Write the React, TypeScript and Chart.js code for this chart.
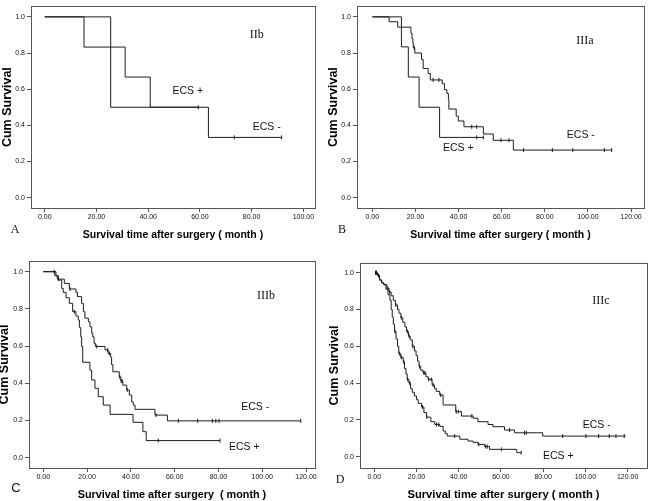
import React, { useEffect, useRef } from "react";
import { Chart, registerables } from "chart.js";

Chart.register(...registerables);

const SANS = '"Liberation Sans", Arial, sans-serif';
const SERIF = '"Liberation Serif", "Times New Roman", serif';
const CURVE = "#1e1e1e";
const FRAME = "#555555";

// ---------- shared ticks ----------
const yTicks = [0, 0.2, 0.4, 0.6, 0.8, 1.0];
const aXTicks = [0, 20, 40, 60, 80, 100];
const bXTicks = [0, 20, 40, 60, 80, 100, 120];
const cXTicks = [0, 20, 40, 60, 80, 100, 120];
const dXTicks = [0, 20, 40, 60, 80, 100, 120];

// ---------- Panel A (IIb) ----------
const aNegT = [0, 15.2, 31.1, 40.8, 63.3, 91.6];
const aNegS = [1, 0.833, 0.667, 0.5, 0.333, 0.333];
const aNegCens = [73.3, 91.6];
const aPosT = [0, 25.5, 59.4];
const aPosS = [1, 0.5, 0.5];
const aPosCens = [59.4];

// ---------- Panel B (IIIa) ----------
const bNegT = [0, 7.8, 11.8, 17.9, 18.4, 18.8, 19.0, 19.7, 22.8, 23.6, 25.9, 26.9, 32.4, 33.5, 34.6, 35.3, 35.5, 38.9, 39.9, 42.5, 51.5, 56.1, 65.4, 111.0];
const bNegS = [1, 0.973, 0.943, 0.91, 0.88, 0.855, 0.83, 0.8, 0.764, 0.714, 0.687, 0.651, 0.63, 0.597, 0.576, 0.545, 0.49, 0.451, 0.424, 0.392, 0.352, 0.317, 0.263, 0.263];
const bNegCens = [19.4, 28.2, 30.9, 46.1, 48.4, 59.7, 63.4, 70.1, 83.5, 93.0, 107.6, 111.0];
const bPosT = [0, 13.5, 16.7, 21.7, 31.2, 51.5];
const bPosS = [1, 0.834, 0.667, 0.5, 0.333, 0.333];
const bPosCens = [48.4, 51.5];

// ---------- Panel C (IIIb) ----------
const cNegT = [0, 5.3, 6.4, 9.6, 11.9, 14.9, 15.6, 17.5, 18.3, 19.0, 20.6, 21.3, 22.1, 22.6, 23.2, 23.8, 28.2, 29.6, 30.8, 31.2, 31.8, 34.7, 35.4, 36.3, 38.1, 39.3, 40.4, 41.1, 41.9, 51.0, 56.7, 117.6];
const cNegS = [1, 0.978, 0.96, 0.937, 0.907, 0.889, 0.866, 0.83, 0.785, 0.75, 0.731, 0.704, 0.67, 0.65, 0.615, 0.598, 0.579, 0.56, 0.54, 0.5, 0.462, 0.435, 0.412, 0.39, 0.364, 0.337, 0.3, 0.283, 0.26, 0.229, 0.198, 0.198];
const cNegCens = [5.0, 6.8, 12.2, 24.4, 29.4, 30.2, 34.9, 35.6, 36.0, 38.3, 51.5, 61.7, 70.5, 77.2, 78.8, 80.3, 117.6];
const cPosT = [0, 5.8, 6.9, 8.4, 9.1, 10.4, 11.9, 13.4, 14.9, 16.0, 16.5, 17.1, 17.5, 18.0, 21.3, 22.1, 23.6, 25.1, 27.4, 30.5, 41.0, 45.5, 47.0, 80.7];
const cPosS = [1, 0.978, 0.955, 0.91, 0.889, 0.86, 0.83, 0.785, 0.762, 0.74, 0.699, 0.65, 0.597, 0.513, 0.47, 0.418, 0.373, 0.328, 0.283, 0.233, 0.19, 0.14, 0.092, 0.092];
const cPosCens = [14.2, 52.5, 80.7];

// ---------- Panel D (IIIc) ----------
const dNegT = [0.3, 1.5, 2.5, 3.5, 4.5, 6.0, 7.0, 8.0, 9.0, 10.0, 11.0, 11.7, 12.6, 13.5, 14.5, 15.3, 16.2, 17.0, 18.0, 19.0, 19.8, 20.5, 21.2, 22.0, 23.1, 24.5, 25.5, 27.4, 28.5, 29.4, 31.0, 32.6, 38.6, 41.3, 46.8, 49.1, 53.9, 56.2, 61.7, 66.5, 79.8, 119.0];
const dNegS = [1.0, 0.985, 0.96, 0.945, 0.935, 0.915, 0.895, 0.875, 0.85, 0.825, 0.8, 0.78, 0.755, 0.73, 0.705, 0.68, 0.655, 0.635, 0.6, 0.575, 0.55, 0.52, 0.49, 0.47, 0.455, 0.435, 0.42, 0.39, 0.37, 0.355, 0.335, 0.281, 0.245, 0.221, 0.209, 0.19, 0.175, 0.163, 0.145, 0.13, 0.112, 0.112];
const dNegCens = [0.6, 1.0, 2.0, 6.5, 7.3, 10.2, 12.8, 15.8, 16.5, 18.3, 21.5, 23.5, 24.0, 25.8, 27.0, 27.9, 31.5, 38.8, 39.8, 46.2, 64.1, 71.2, 72.0, 89.3, 100.3, 106.3, 111.3, 114.5, 118.4];
const dPosT = [0.3, 1.5, 2.5, 3.5, 4.5, 5.5, 6.5, 7.4, 8.0, 8.5, 9.0, 9.6, 10.3, 11.0, 11.6, 12.5, 13.7, 14.3, 15.0, 15.6, 16.4, 17.2, 18.0, 19.0, 20.0, 20.8, 22.4, 23.5, 24.7, 26.8, 28.7, 31.0, 32.6, 33.6, 34.6, 40.5, 44.4, 46.8, 49.1, 52.3, 54.6, 67.5, 69.6];
const dPosS = [1.0, 0.985, 0.96, 0.945, 0.935, 0.91, 0.88, 0.85, 0.8, 0.76, 0.72, 0.68, 0.64, 0.6, 0.56, 0.54, 0.515, 0.48, 0.45, 0.42, 0.4, 0.37, 0.35, 0.33, 0.31, 0.29, 0.27, 0.24, 0.215, 0.19, 0.175, 0.165, 0.14, 0.125, 0.112, 0.095, 0.085, 0.078, 0.067, 0.055, 0.04, 0.022, 0.022];
const dPosCens = [0.6, 1.0, 9.8, 12.0, 12.8, 14.0, 15.8, 16.8, 22.8, 24.9, 29.5, 30.5, 38.1, 49.5, 52.8, 53.5, 60.2, 69.6];

// ---------- helpers ----------
function survAt(T: number[], S: number[], t: number): number {
  let v = S[0];
  for (let i = 0; i < T.length; i++) {
    if (T[i] <= t) v = S[i];
    else break;
  }
  return v;
}

type Series = { T: number[]; S: number[]; C: number[] };
type Label = { text: string; x: number; y: number; font: string };
type Spec = {
  left: number; top: number; width: number; height: number;
  padTop: number; padRight: number; yWidth: number; xHeight: number;
  xMin: number; xMax: number; yMin: number; yMax: number;
  xTicks: number[];
  xTitle: string; xTitleSize: number; xTitlePad: number;
  yTitleSize: number; yTitlePad: number;
  series: Series[];
  labels: Label[];
  letter: Label;
};

const LBL = `10.5px ${SANS}`;
const ROM = `12px ${SERIF}`;

const specs: Spec[] = [
  {
    left: 0, top: 0, width: 325, height: 250,
    padTop: 0, padRight: 10, yWidth: 31, xHeight: 42,
    xMin: -5.3, xMax: 104.5, yMin: -0.0575, yMax: 1.059,
    xTicks: aXTicks,
    xTitle: "Survival time after surgery ( month )", xTitleSize: 10.5, xTitlePad: 9.75,
    yTitleSize: 12.5, yTitlePad: 1.75,
    series: [
      { T: aNegT, S: aNegS, C: aNegCens },
      { T: aPosT, S: aPosS, C: aPosCens },
    ],
    labels: [
      { text: "IIb", x: 82, y: 0.898, font: ROM },
      { text: "ECS +", x: 55.3, y: 0.59, font: LBL },
      { text: "ECS -", x: 85.8, y: 0.388, font: LBL },
    ],
    letter: { text: "A", x: 15, y: 230, font: `12px ${SERIF}` },
  },
  {
    left: 325, top: 0, width: 325, height: 250,
    padTop: 0, padRight: 6, yWidth: 32, xHeight: 42,
    xMin: -7.1, xMax: 126.0, yMin: -0.0575, yMax: 1.059,
    xTicks: bXTicks,
    xTitle: "Survival time after surgery ( month )", xTitleSize: 10.5, xTitlePad: 9.75,
    yTitleSize: 12.5, yTitlePad: 2.05,
    series: [
      { T: bNegT, S: bNegS, C: bNegCens },
      { T: bPosT, S: bPosS, C: bPosCens },
    ],
    labels: [
      { text: "IIIa", x: 98.6, y: 0.866, font: ROM },
      { text: "ECS -", x: 96.7, y: 0.347, font: LBL },
      { text: "ECS +", x: 39.9, y: 0.272, font: LBL },
    ],
    letter: { text: "B", x: 17, y: 230, font: `12px ${SERIF}` },
  },
  {
    left: 0, top: 250, width: 325, height: 251,
    padTop: 11, padRight: 10, yWidth: 29, xHeight: 33,
    xMin: -6.53, xMax: 124.1, yMin: -0.0554, yMax: 1.0575,
    xTicks: cXTicks,
    xTitle: "Survival time after surgery  ( month )", xTitleSize: 10.8, xTitlePad: 0.6,
    yTitleSize: 12.5, yTitlePad: -2,
    series: [
      { T: cNegT, S: cNegS, C: cNegCens },
      { T: cPosT, S: cPosS, C: cPosCens },
    ],
    labels: [
      { text: "IIIb", x: 101.7, y: 0.869, font: ROM },
      { text: "ECS -", x: 96.8, y: 0.274, font: LBL },
      { text: "ECS +", x: 91.8, y: 0.056, font: LBL },
    ],
    letter: { text: "C", x: 16, y: 238, font: `13px ${SANS}` },
  },
  {
    left: 325, top: 250, width: 325, height: 251,
    padTop: 13, padRight: 3, yWidth: 35, xHeight: 33,
    xMin: -6.77, xMax: 129.2, yMin: -0.0614, yMax: 1.0527,
    xTicks: dXTicks,
    xTitle: "Survival time after surgery ( month )", xTitleSize: 11.2, xTitlePad: 0.4,
    yTitleSize: 12.5, yTitlePad: 3.75,
    series: [
      { T: dNegT, S: dNegS, C: dNegCens },
      { T: dPosT, S: dPosS, C: dPosCens },
    ],
    labels: [
      { text: "IIIc", x: 107.4, y: 0.846, font: ROM },
      { text: "ECS -", x: 105.4, y: 0.172, font: LBL },
      { text: "ECS +", x: 87.2, y: 0.005, font: LBL },
    ],
    letter: { text: "D", x: 15, y: 230, font: `12px ${SERIF}` },
  },
];

const decoPlugin = {
  id: "deco",
  afterDraw(chart: any, _args: any, opts: any) {
    const { ctx, chartArea: a, scales } = chart;
    const al = (v: number) => Math.round(v - 0.5) + 0.5;
    ctx.save();
    ctx.strokeStyle = FRAME;
    ctx.lineWidth = 1;
    const l = al(a.left), t = al(a.top), r = al(a.right), b = al(a.bottom);
    ctx.strokeRect(l, t, r - l, b - t);
    ctx.fillStyle = "#111";
    ctx.textAlign = "center";
    ctx.textBaseline = "middle";
    (opts.labels || []).forEach((lb: Label) => {
      ctx.font = lb.font;
      ctx.fillText(lb.text, scales.x.getPixelForValue(lb.x), scales.y.getPixelForValue(lb.y));
    });
    if (opts.letter) {
      ctx.font = opts.letter.font;
      ctx.fillText(opts.letter.text, opts.letter.x, opts.letter.y);
    }
    ctx.restore();
  },
};

function Panel({ spec }: { spec: Spec }) {
  const ref = useRef<HTMLCanvasElement>(null);
  useEffect(() => {
    if (!ref.current) return;
    const datasets: any[] = [];
    spec.series.forEach((s) => {
      datasets.push({
        data: s.T.map((t, i) => ({ x: t, y: s.S[i] })),
        showLine: true,
        stepped: "before",
        pointRadius: 0,
        borderColor: CURVE,
        borderWidth: 1,
        fill: false,
      });
      datasets.push({
        data: s.C.map((t) => ({ x: t, y: survAt(s.T, s.S, t) })),
        showLine: false,
        pointStyle: "line",
        rotation: 90,
        pointRadius: 2,
        pointHoverRadius: 2,
        borderColor: CURVE,
        borderWidth: 1,
      });
    });
    const tickFont = { family: SANS, size: 7 };
    const chart = new Chart(ref.current, {
      type: "scatter",
      data: { datasets },
      options: {
        responsive: false,
        animation: false,
        events: [],
        layout: { padding: { top: spec.padTop, right: spec.padRight, left: 0, bottom: 0 } },
        plugins: {
          legend: { display: false },
          tooltip: { enabled: false },
          deco: { labels: spec.labels, letter: spec.letter },
        } as any,
        scales: {
          x: {
            type: "linear",
            min: spec.xMin,
            max: spec.xMax,
            afterBuildTicks: (s: any) => {
              s.ticks = spec.xTicks.map((v) => ({ value: v }));
            },
            afterFit: (s: any) => {
              s.height = spec.xHeight;
            },
            ticks: {
              callback: (v: any) => Number(v).toFixed(2),
              font: tickFont,
              color: "#111",
              padding: 1,
              maxRotation: 0,
              autoSkip: false,
            },
            grid: { drawOnChartArea: false, drawTicks: true, tickLength: 4, color: FRAME, lineWidth: 1 },
            border: { display: true, color: FRAME, width: 1 },
            title: {
              display: true,
              text: spec.xTitle,
              color: "#000",
              font: { family: SANS, size: spec.xTitleSize, weight: "bold", lineHeight: 1 },
              padding: { top: 0, bottom: spec.xTitlePad },
            },
          },
          y: {
            type: "linear",
            min: spec.yMin,
            max: spec.yMax,
            afterBuildTicks: (s: any) => {
              s.ticks = yTicks.map((v) => ({ value: v }));
            },
            afterFit: (s: any) => {
              s.width = spec.yWidth;
            },
            ticks: {
              callback: (v: any) => Number(v).toFixed(1),
              font: tickFont,
              color: "#111",
              padding: 2,
              autoSkip: false,
            },
            grid: { drawOnChartArea: false, drawTicks: true, tickLength: 4, color: FRAME, lineWidth: 1 },
            border: { display: true, color: FRAME, width: 1 },
            title: {
              display: true,
              text: "Cum Survival",
              color: "#000",
              font: { family: SANS, size: spec.yTitleSize, weight: "bold", lineHeight: 1 },
              padding: { top: spec.yTitlePad, bottom: 0 },
            },
          },
        },
      } as any,
      plugins: [decoPlugin as any],
    });
    return () => chart.destroy();
  }, [spec]);
  return (
    <canvas
      ref={ref}
      width={spec.width}
      height={spec.height}
      style={{ position: "absolute", left: spec.left, top: spec.top, width: spec.width, height: spec.height }}
    />
  );
}

export default function App() {
  return (
    <div style={{ position: "absolute", left: 0, top: 0, width: 650, height: 501, background: "#fff", overflow: "hidden" }}>
      {specs.map((s, i) => (
        <Panel key={i} spec={s} />
      ))}
    </div>
  );
}
